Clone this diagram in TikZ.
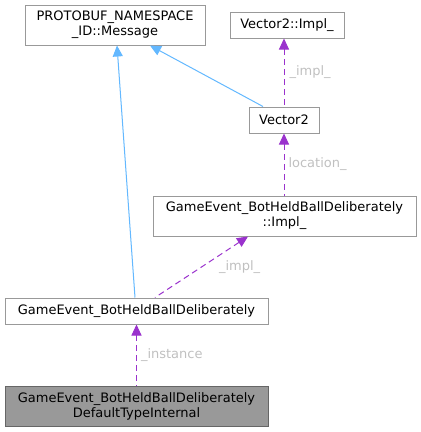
\documentclass[tikz,border=0pt]{standalone}
\usepackage{fontspec}
\setmainfont{DejaVu Sans}
\usetikzlibrary{arrows.meta, positioning}
\usepackage{xcolor}
\definecolor{inhblue}{HTML}{63B8FF}
\definecolor{usepurple}{HTML}{9A32CD}
\definecolor{boxgray}{HTML}{999999}
\definecolor{boxedge}{HTML}{666666}
\definecolor{labelgray}{HTML}{C0C0C0}

\begin{document}
\begin{tikzpicture}[x=1pt, y=1pt,
  every node/.style={font=\fontsize{13}{15}\selectfont},
  cls/.style={rectangle, draw=boxgray, line width=1pt, fill=white, align=center, inner sep=0pt, minimum height=26pt},
  inherit/.style={draw=inhblue, line width=1pt, {Triangle[length=11pt, width=10pt]}-},
  member/.style={draw=usepurple, line width=1pt, dash pattern=on 6pt off 4pt, {Triangle[length=11pt, width=10pt]}-},
  lbl/.style={text=labelgray, inner sep=0pt}]
  \useasboundingbox (0,0) rectangle (421,-432);

  \node[cls, minimum width=180pt, minimum height=40pt] (Message) at (115,-25) {PROTOBUF\_NAMESPACE\\\_ID::Message};
  \node[cls, minimum width=114pt] (VImpl) at (287,-25) {Vector2::Impl\_};
  \node[cls, minimum width=70pt] (Vector2) at (284,-120) {Vector2};
  \node[cls, minimum width=263pt, minimum height=40pt] (EventImpl) at (284.5,-216) {GameEvent\_BotHeldBallDeliberately\\::Impl\_};
  \node[cls, minimum width=263pt] (Event) at (136.5,-311) {GameEvent\_BotHeldBallDeliberately};
  \node[cls, minimum width=263pt, minimum height=40pt, draw=boxedge, fill=boxgray] (Default) at (136.5,-406) {GameEvent\_BotHeldBallDeliberately\\DefaultTypeInternal};

  \draw[inherit] ([xshift=2pt]Message.south) -- ([xshift=-1.5pt]Event.north);
  \draw[inherit] ([xshift=35pt]Message.south) -- ([xshift=-21pt]Vector2.north);
  \draw[member] (Vector2.north |- VImpl.south) -- (Vector2.north) node[lbl, midway, right=5pt] {\_impl\_};
  \draw[member] (Vector2.south) -- (Vector2.south |- EventImpl.north) node[lbl, midway, right=4pt] {location\_};
  \draw[member] ([xshift=-36.5pt]EventImpl.south) -- ([xshift=18.5pt]Event.north) node[lbl, midway, right=17pt] {\_impl\_};
  \draw[member] (Event.south) -- (Default.north) node[lbl, midway, right=4pt] {\_instance};
\end{tikzpicture}
\end{document}
